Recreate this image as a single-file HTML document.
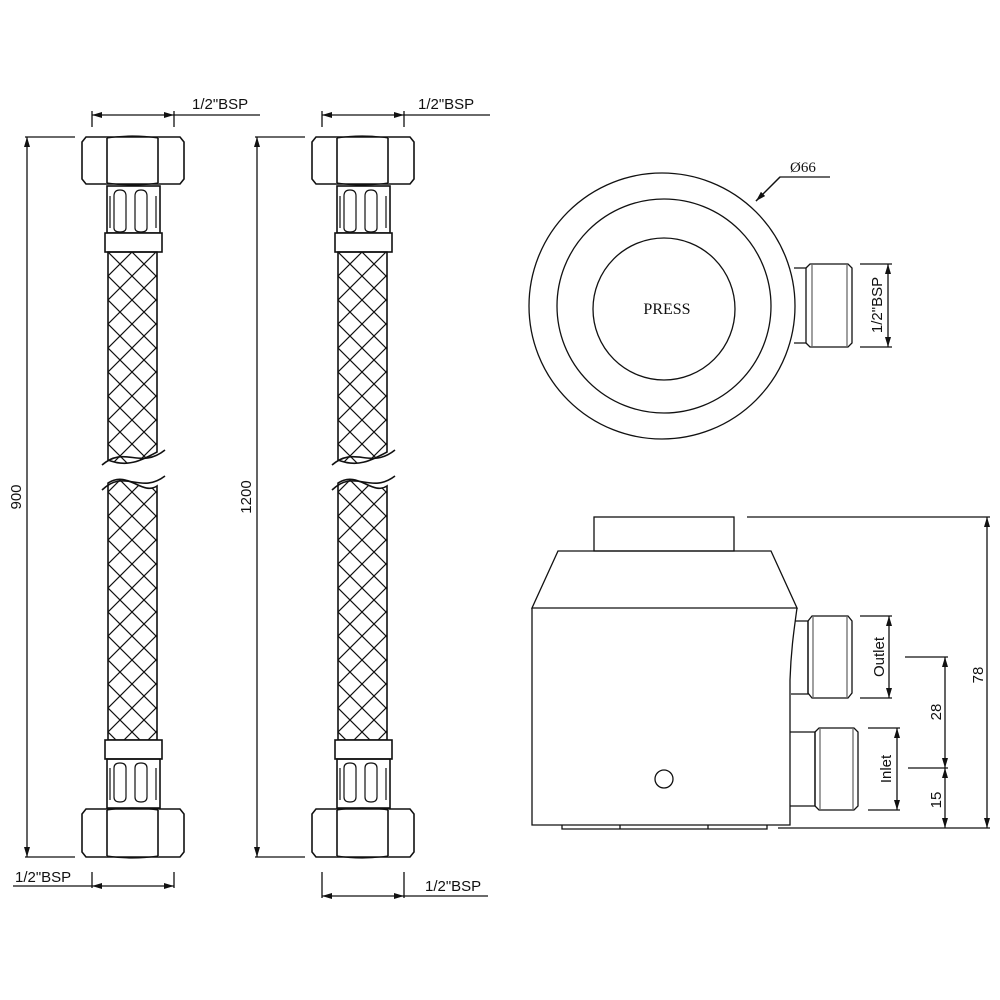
<!DOCTYPE html>
<html><head><meta charset="utf-8"><style>
html,body{margin:0;padding:0;background:#fff}
svg{display:block}
text{font-family:"Liberation Sans",sans-serif;font-size:15px;fill:#111}
</style></head><body>
<svg width="1000" height="1000" viewBox="0 0 1000 1000" xmlns="http://www.w3.org/2000/svg">
<defs>
<marker id="a" viewBox="0 0 10 6" refX="10" refY="3" markerWidth="10" markerHeight="6" orient="auto-start-reverse" markerUnits="userSpaceOnUse"><path d="M0,0 L10,3 L0,6 z" fill="#111"/></marker>
<pattern id="hx" width="24" height="24" patternUnits="userSpaceOnUse" x="108" y="252">
<path d="M0,0 L24,24 M24,0 L0,24 M-12,12 L0,24 M12,-12 L36,12" stroke="#111" stroke-width="1.2" fill="none"/>
</pattern>
<g id="hose" stroke="#111" stroke-width="1.6" fill="none">
<!-- top nut -->
<path d="M86,137 L180,137 L184,142 L184,179 L180,184 L86,184 L82,179 L82,142 Z" fill="#fff"/>
<path d="M107,138 L107,183 M158,138 L158,183"/>
<path d="M107,138 Q132,134 158,138 M107,183 Q132,187 158,183" stroke-width="1.2"/>
<!-- top ferrule -->
<rect x="107" y="186" width="53" height="47"/>
<path d="M114,196 Q114,190 120,190 Q126,190 126,196 L126,228 Q126,232 120,232 Q114,232 114,228 Z M135,196 Q135,190 141,190 Q147,190 147,196 L147,228 Q147,232 141,232 Q135,232 135,228 Z M110,196 L110,228 M156,196 L156,228" stroke-width="1.2"/>
<rect x="105" y="233" width="57" height="19" fill="#fff"/>
<!-- braid -->
<path d="M108,252 L157,252 L157,452 C142,460 128,468 108,460 Z" fill="url(#hx)"/>
<path d="M102,465 C125,445 140,470 165,450"/>
<path d="M108,483 C128,470 142,496 157,486 L157,740 L108,740 Z" fill="url(#hx)"/>
<path d="M102,490 C125,468 140,495 165,476"/>
<rect x="105" y="740" width="57" height="19" fill="#fff"/>
<!-- bottom ferrule -->
<rect x="107" y="759" width="53" height="49"/>
<path d="M114,768 Q114,763 120,763 Q126,763 126,768 L126,797 Q126,802 120,802 Q114,802 114,797 Z M135,768 Q135,763 141,763 Q147,763 147,768 L147,797 Q147,802 141,802 Q135,802 135,797 Z M110,768 L110,800 M156,768 L156,800" stroke-width="1.2"/>
<!-- bottom nut -->
<path d="M86,809 L180,809 L184,814 L184,852 L180,857 L86,857 L82,852 L82,814 Z" fill="#fff"/>
<path d="M107,810 L107,856 M158,810 L158,856"/>
<path d="M107,810 Q132,806 158,810 M107,856 Q132,860 158,856" stroke-width="1.2"/>
</g>
</defs>

<use href="#hose"/>
<use href="#hose" transform="translate(230,0)"/>

<g stroke="#111" stroke-width="1.3" fill="none">
<!-- hose 1 dims -->
<path d="M92,111 L92,127 M174,111 L174,127"/>
<path d="M92,115 L174,115" marker-start="url(#a)" marker-end="url(#a)"/>
<path d="M174,115 L260,115"/>
<path d="M25,137 L75,137 M25,857 L75,857"/>
<path d="M27,137 L27,857" marker-start="url(#a)" marker-end="url(#a)"/>
<path d="M92,872 L92,888 M174,872 L174,888"/>
<path d="M92,886 L174,886" marker-start="url(#a)" marker-end="url(#a)"/>
<path d="M13,886 L92,886"/>
<!-- hose 2 dims -->
<path d="M322,111 L322,127 M404,111 L404,127"/>
<path d="M322,115 L404,115" marker-start="url(#a)" marker-end="url(#a)"/>
<path d="M404,115 L490,115"/>
<path d="M255,137 L305,137 M255,857 L305,857"/>
<path d="M257,137 L257,857" marker-start="url(#a)" marker-end="url(#a)"/>
<path d="M322,872 L322,898 M404,872 L404,898"/>
<path d="M322,896 L404,896" marker-start="url(#a)" marker-end="url(#a)"/>
<path d="M404,896 L488,896"/>

<!-- top view -->
<circle cx="662" cy="306" r="133"/>
<circle cx="664" cy="306" r="107"/>
<circle cx="664" cy="309" r="71"/>
<path d="M756,201 L780,177 L830,177"/>
<path d="M780,177 L756,201" marker-end="url(#a)"/>
<path d="M794,268 L806,268 L806,343 L794,343"/>
<path d="M806,268 L810,264 L848,264 L852,268 L852,343 L848,347 L810,347 L806,343"/>
<path d="M812,265 L812,346 M847,265 L847,346" stroke-width="0.8"/>
<path d="M860,264 L892,264 M860,347 L892,347"/>
<path d="M888,264 L888,347" marker-start="url(#a)" marker-end="url(#a)"/>

<!-- side view -->
<rect x="594" y="517" width="140" height="34"/>
<path d="M558,551 L771,551 L797,608 L532,608 Z"/>
<path d="M532,608 L532,825 L790,825 L790,680 C791,650 794,630 797,608"/>
<path d="M562,825 L562,829 L767,829 L767,825 M620,825 L620,829 M708,825 L708,829"/>
<circle cx="664" cy="779" r="9"/>
<path d="M795,621 L808,621 L808,694 L791,694"/>
<path d="M808,621 L812,616 L848,616 L852,621 L852,693 L848,698 L812,698 L808,693 Z"/>
<path d="M813,617 L813,697 M847,617 L847,697" stroke-width="0.8"/>
<path d="M790,732 L815,732 L815,806 L790,806"/>
<path d="M815,732 L819,728 L854,728 L858,732 L858,806 L854,810 L819,810 L815,806 Z"/>
<path d="M820,729 L820,809 M853,729 L853,809" stroke-width="0.8"/>
<path d="M860,616 L892,616 M860,698 L892,698"/>
<path d="M889,616 L889,698" marker-start="url(#a)" marker-end="url(#a)"/>
<path d="M868,728 L900,728 M868,810 L900,810"/>
<path d="M897,728 L897,810" marker-start="url(#a)" marker-end="url(#a)"/>
<path d="M905,657 L948,657 M908,768 L948,768"/>
<path d="M945,657 L945,768" marker-start="url(#a)" marker-end="url(#a)"/>
<path d="M945,768 L945,828" marker-start="url(#a)" marker-end="url(#a)"/>
<path d="M747,517 L990,517 M778,828 L990,828"/>
<path d="M987,517 L987,828" marker-start="url(#a)" marker-end="url(#a)"/>
</g>

<text x="192" y="109">1/2"BSP</text>
<text x="418" y="109">1/2"BSP</text>
<text x="15" y="882">1/2"BSP</text>
<text x="425" y="891">1/2"BSP</text>
<text transform="translate(21,497) rotate(-90)" text-anchor="middle">900</text>
<text transform="translate(251,497) rotate(-90)" text-anchor="middle">1200</text>
<text x="790" y="172" style="font-family:'Liberation Serif',serif;font-size:15px">Ø66</text>
<text x="667" y="314" text-anchor="middle" style="font-family:'Liberation Serif',serif;font-size:16px">PRESS</text>
<text transform="translate(882,305) rotate(-90)" text-anchor="middle">1/2"BSP</text>
<text transform="translate(884,657) rotate(-90)" text-anchor="middle">Outlet</text>
<text transform="translate(891,769) rotate(-90)" text-anchor="middle">Inlet</text>
<text transform="translate(941,712) rotate(-90)" text-anchor="middle">28</text>
<text transform="translate(941,800) rotate(-90)" text-anchor="middle">15</text>
<text transform="translate(983,675) rotate(-90)" text-anchor="middle">78</text>
</svg>
</body></html>
